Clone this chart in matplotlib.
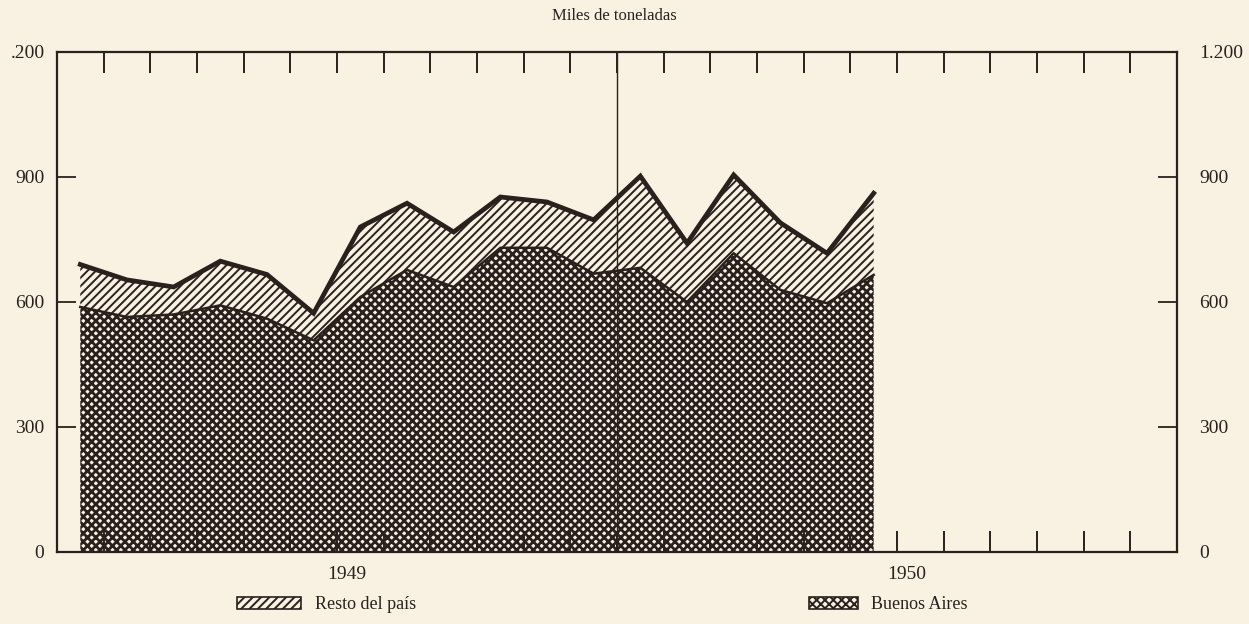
import matplotlib

matplotlib.use("Agg")

import matplotlib.pyplot as plt
import numpy as np
from matplotlib.patches import Patch


PAPER = "#f9f1e1"
INK = "#2a211f"
SERIF = ["Liberation Serif", "DejaVu Serif"]

# Jan 1949 .. Jun 1950, miles de toneladas
MONTH_INDEX = np.arange(18)
TOTAL = [690, 653, 636, 698, 666, 573, 780, 837, 768, 852, 840, 797,
         902, 741, 905, 790, 717, 861]
BUENOS_AIRES = [588, 564, 570, 592, 560, 508, 612, 677, 636, 730, 730, 668,
                682, 600, 717, 629, 597, 665]

Y_TICKS = [0, 300, 600, 900, 1200]
LEFT_LABELS = ["0", "300", "600", "900", ".200"]
RIGHT_LABELS = ["0", "300", "600", "900", "1.200"]
YEARS = ["1949", "1950"]


def heavy_hatch(artist, width: float) -> None:
    if hasattr(artist, "set_hatch_linewidth"):
        artist.set_hatch_linewidth(width)


def main() -> None:
    plt.rcParams["font.family"] = SERIF
    plt.rcParams["hatch.linewidth"] = 1.4

    fig = plt.figure(figsize=(12.49, 6.24), dpi=100, facecolor=PAPER)
    ax = fig.add_axes([0.0456, 0.1154, 0.8968, 0.8013])
    ax.set_facecolor(PAPER)

    x = MONTH_INDEX + 0.5
    with plt.rc_context({"hatch.linewidth": 2.0}):
        capital_fill = ax.fill_between(x, 0, BUENOS_AIRES, facecolor=PAPER,
                                       edgecolor=INK, hatch="xxxx", linewidth=0)
    heavy_hatch(capital_fill, 2.0)
    ax.fill_between(x, BUENOS_AIRES, TOTAL, facecolor=PAPER, edgecolor=INK,
                    hatch="////", linewidth=0)
    ax.plot(x, BUENOS_AIRES, color=INK, linewidth=1.8)
    ax.plot(x, TOTAL, color=INK, linewidth=3.4, solid_joinstyle="miter")
    ax.axvline(12, color=INK, linewidth=1.0)

    ax.set_xlim(0, 24)
    ax.set_ylim(0, 1200)
    for spine in ax.spines.values():
        spine.set_color(INK)
        spine.set_linewidth(1.6)

    ax.set_xticks(range(1, 24))
    ax.tick_params(axis="x", direction="in", top=True, bottom=True,
                   length=15, width=1.4, color=INK, labelbottom=False)
    ax.set_yticks(Y_TICKS)
    ax.set_yticklabels(LEFT_LABELS)
    ax.tick_params(axis="y", direction="in", length=14, width=1.3,
                   color=INK, labelsize=14, labelcolor=INK, pad=9)

    right = ax.twinx()
    right.set_ylim(0, 1200)
    right.set_yticks(Y_TICKS)
    right.set_yticklabels(RIGHT_LABELS)
    right.tick_params(axis="y", direction="in", length=14, width=1.3,
                      color=INK, labelsize=14, labelcolor=INK, pad=16)
    for spine in right.spines.values():
        spine.set_visible(False)

    for pos, year in zip([6.2, 18.2], YEARS):
        ax.text(pos, -0.045, year, transform=ax.get_xaxis_transform(),
                ha="center", va="center", fontsize=14, color=INK)

    fig.text(0.492, 0.975, "Miles de toneladas", ha="center", va="center",
             fontsize=12, color=INK)

    resto = Patch(facecolor=PAPER, edgecolor=INK, hatch="////", linewidth=1.2)
    with plt.rc_context({"hatch.linewidth": 2.0}):
        capital = Patch(facecolor=PAPER, edgecolor=INK, hatch="xxxx",
                        linewidth=1.2)
    heavy_hatch(capital, 2.0)
    fig.legend([resto], ["Resto del país"], loc="center left",
               bbox_to_anchor=(0.19, 0.031), frameon=False, fontsize=13,
               handlelength=3.5, handleheight=0.7, handletextpad=0.8,
               borderpad=0, borderaxespad=0, labelcolor=INK)
    fig.legend([capital], ["Buenos Aires"], loc="center left",
               bbox_to_anchor=(0.648, 0.031), frameon=False, fontsize=13,
               handlelength=2.7, handleheight=0.7, handletextpad=0.7,
               borderpad=0, borderaxespad=0, labelcolor=INK)

    fig.savefig("out.png", dpi=100, facecolor=PAPER)
    plt.close(fig)


if __name__ == "__main__":
    main()
